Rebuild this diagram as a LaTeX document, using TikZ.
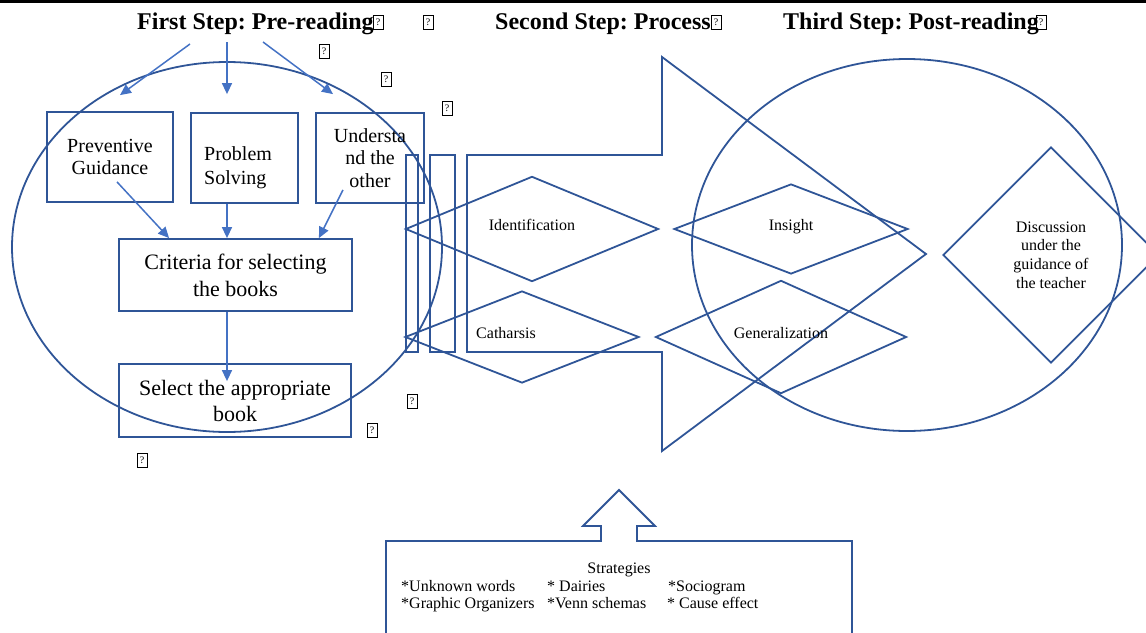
\documentclass[tikz,border=0pt]{standalone}
\usepackage{fontspec}
\setmainfont{Liberation Serif}
\usetikzlibrary{arrows.meta,shapes.geometric}
\definecolor{accent}{RGB}{47,85,151}
\definecolor{link}{RGB}{68,114,196}
\frenchspacing

\begin{document}
\begin{tikzpicture}[x=1pt, y=-1pt,
        box/.style={draw=accent, line width=1.8pt, inner sep=0pt, align=center, font=\fontsize{20}{22.5}\selectfont},
        dia/.style={diamond, draw=accent, line width=1.8pt, inner sep=0pt, align=center, font=\fontsize{16}{18.7}\selectfont},
        oneline/.style={text height=11pt, text depth=8pt},
        lbl/.style={inner sep=0pt, font=\fontsize{16}{18.7}\selectfont},
        ttl/.style={inner sep=0pt, anchor=base west, font=\fontsize{24}{28}\selectfont\bfseries},
        tofu/.style={draw, line width=0.6pt, inner sep=0pt, minimum width=10pt, minimum height=14pt, font=\fontsize{10}{10}\selectfont},
        lnk/.style={link, line width=1.5pt, -{Triangle[length=11pt,width=10pt]}}]
    \useasboundingbox (0,0) rectangle (1146,632);
    \clip (0,0) rectangle (1146,632);
    \fill[black] (0,0) rectangle (1146,3);

    % titles
    \node[ttl] (t1) at (137,29) {First Step: Pre-reading};
    \node[ttl] (t2) at (495,29) {Second Step: Process};
    \node[ttl] (t3) at (783,29) {Third Step: Post-reading};

    % missing glyphs
    \node[tofu] (q1) at (378,22) {?};
    \node[tofu] (q2) at (428,22) {?};
    \node[tofu] (q3) at (716,22) {?};
    \node[tofu] (q4) at (1041,22) {?};
    \node[tofu] (q5) at (324,51) {?};
    \node[tofu] (q6) at (386,79) {?};
    \node[tofu] (q7) at (447,108) {?};
    \node[tofu] (q8) at (412,401) {?};
    \node[tofu] (q9) at (372,430) {?};
    \node[tofu] (q10) at (142,460) {?};

    % pre-reading
    \draw[accent, line width=1.8pt] (227,247) ellipse [x radius=215pt, y radius=185pt];
    \node[box, minimum width=126pt, minimum height=90pt] (pg) at (110,157) {Preventive\\Guidance};
    \node[box, minimum width=107pt, minimum height=90pt] (ps) at (244.5,158) {};
    \node[inner sep=0pt, anchor=north west, align=left, font=\fontsize{20}{24}\selectfont] (pst) at (204,146) {Problem\\Solving};
    \node[box, minimum width=108pt, minimum height=90pt] (us) at (370,158) {Understa\\nd the\\other};
    \node[box, minimum width=233pt, minimum height=72pt, font=\fontsize{22}{27}\selectfont] (cr) at (235.5,275) {Criteria for selecting\\the books};
    \node[box, minimum width=232pt, minimum height=73pt, font=\fontsize{22}{26}\selectfont] (sl) at (235,400.5) {Select the appropriate\\book};

    \coordinate (a1) at (190,44);
    \coordinate (a2) at (227,42);
    \coordinate (a3) at (263,42);
    \draw[lnk] (a1) -- ([xshift=10pt,yshift=16pt]pg.north);
    \draw[lnk] (a2) -- ([xshift=-17.5pt,yshift=18pt]ps.north);
    \draw[lnk] (a3) -- ([xshift=-37pt,yshift=18pt]us.north);
    \draw[lnk] ([xshift=7pt,yshift=21pt]pg.south) -- ([xshift=51pt]cr.north west);
    \draw[lnk] ([xshift=-17.5pt]ps.south) -- ([xshift=-8.5pt]cr.north);
    \draw[lnk] ([xshift=-27pt,yshift=14pt]us.south) -- ([xshift=-34pt]cr.north east);
    \draw[lnk] ([xshift=-8.5pt]cr.south) -- ([xshift=-8pt,yshift=-18pt]sl.north);

    % process
    \draw[accent, line width=1.8pt] (406,155) rectangle (418,352);
    \draw[accent, line width=1.8pt] (430,155) rectangle (455,352);
    \draw[accent, line width=1.8pt] (467,155) -- (662,155) -- (662,57) -- (926,254)
        -- (662,451) -- (662,352) -- (467,352) -- cycle;
    \node[dia, oneline, minimum width=253pt, minimum height=92pt] (idf) at (532,229) {Identification};
    \node[dia, minimum width=234pt, minimum height=92pt] (cat) at (522,337) {};
    \node[lbl] (catt) at (506,333) {Catharsis};

    % post-reading
    \draw[accent, line width=1.8pt] (907,245) ellipse [x radius=215pt, y radius=186pt];
    \node[dia, oneline, minimum width=234pt, minimum height=90pt] (ins) at (791,229) {Insight};
    \node[dia, oneline, minimum width=251pt, minimum height=92pt] (gen) at (781,337) {Generalization};
    \node[dia, minimum width=216pt, minimum height=216pt] (dis) at (1051,255) {Discussion\\under the\\guidance of\\the teacher};

    % strategies
    \draw[accent, line width=1.8pt] (386,640) -- (386,541) -- (601,541) -- (601,526) -- (583,526)
        -- (619,490) -- (655,526) -- (637,526) -- (637,541) -- (852,541) -- (852,640);
    \node[lbl, anchor=base] (stg) at (619,573) {Strategies};
    \node[lbl, anchor=base west] (s11) at (401,591) {*Unknown words};
    \node[lbl, anchor=base west] (s12) at (547,591) {* Dairies};
    \node[lbl, anchor=base west] (s13) at (668,591) {*Sociogram};
    \node[lbl, anchor=base west] (s21) at (401,608) {*Graphic Organizers};
    \node[lbl, anchor=base west] (s22) at (547,608) {*Venn schemas};
    \node[lbl, anchor=base west] (s23) at (667,608) {* Cause effect};
\end{tikzpicture}
\end{document}
